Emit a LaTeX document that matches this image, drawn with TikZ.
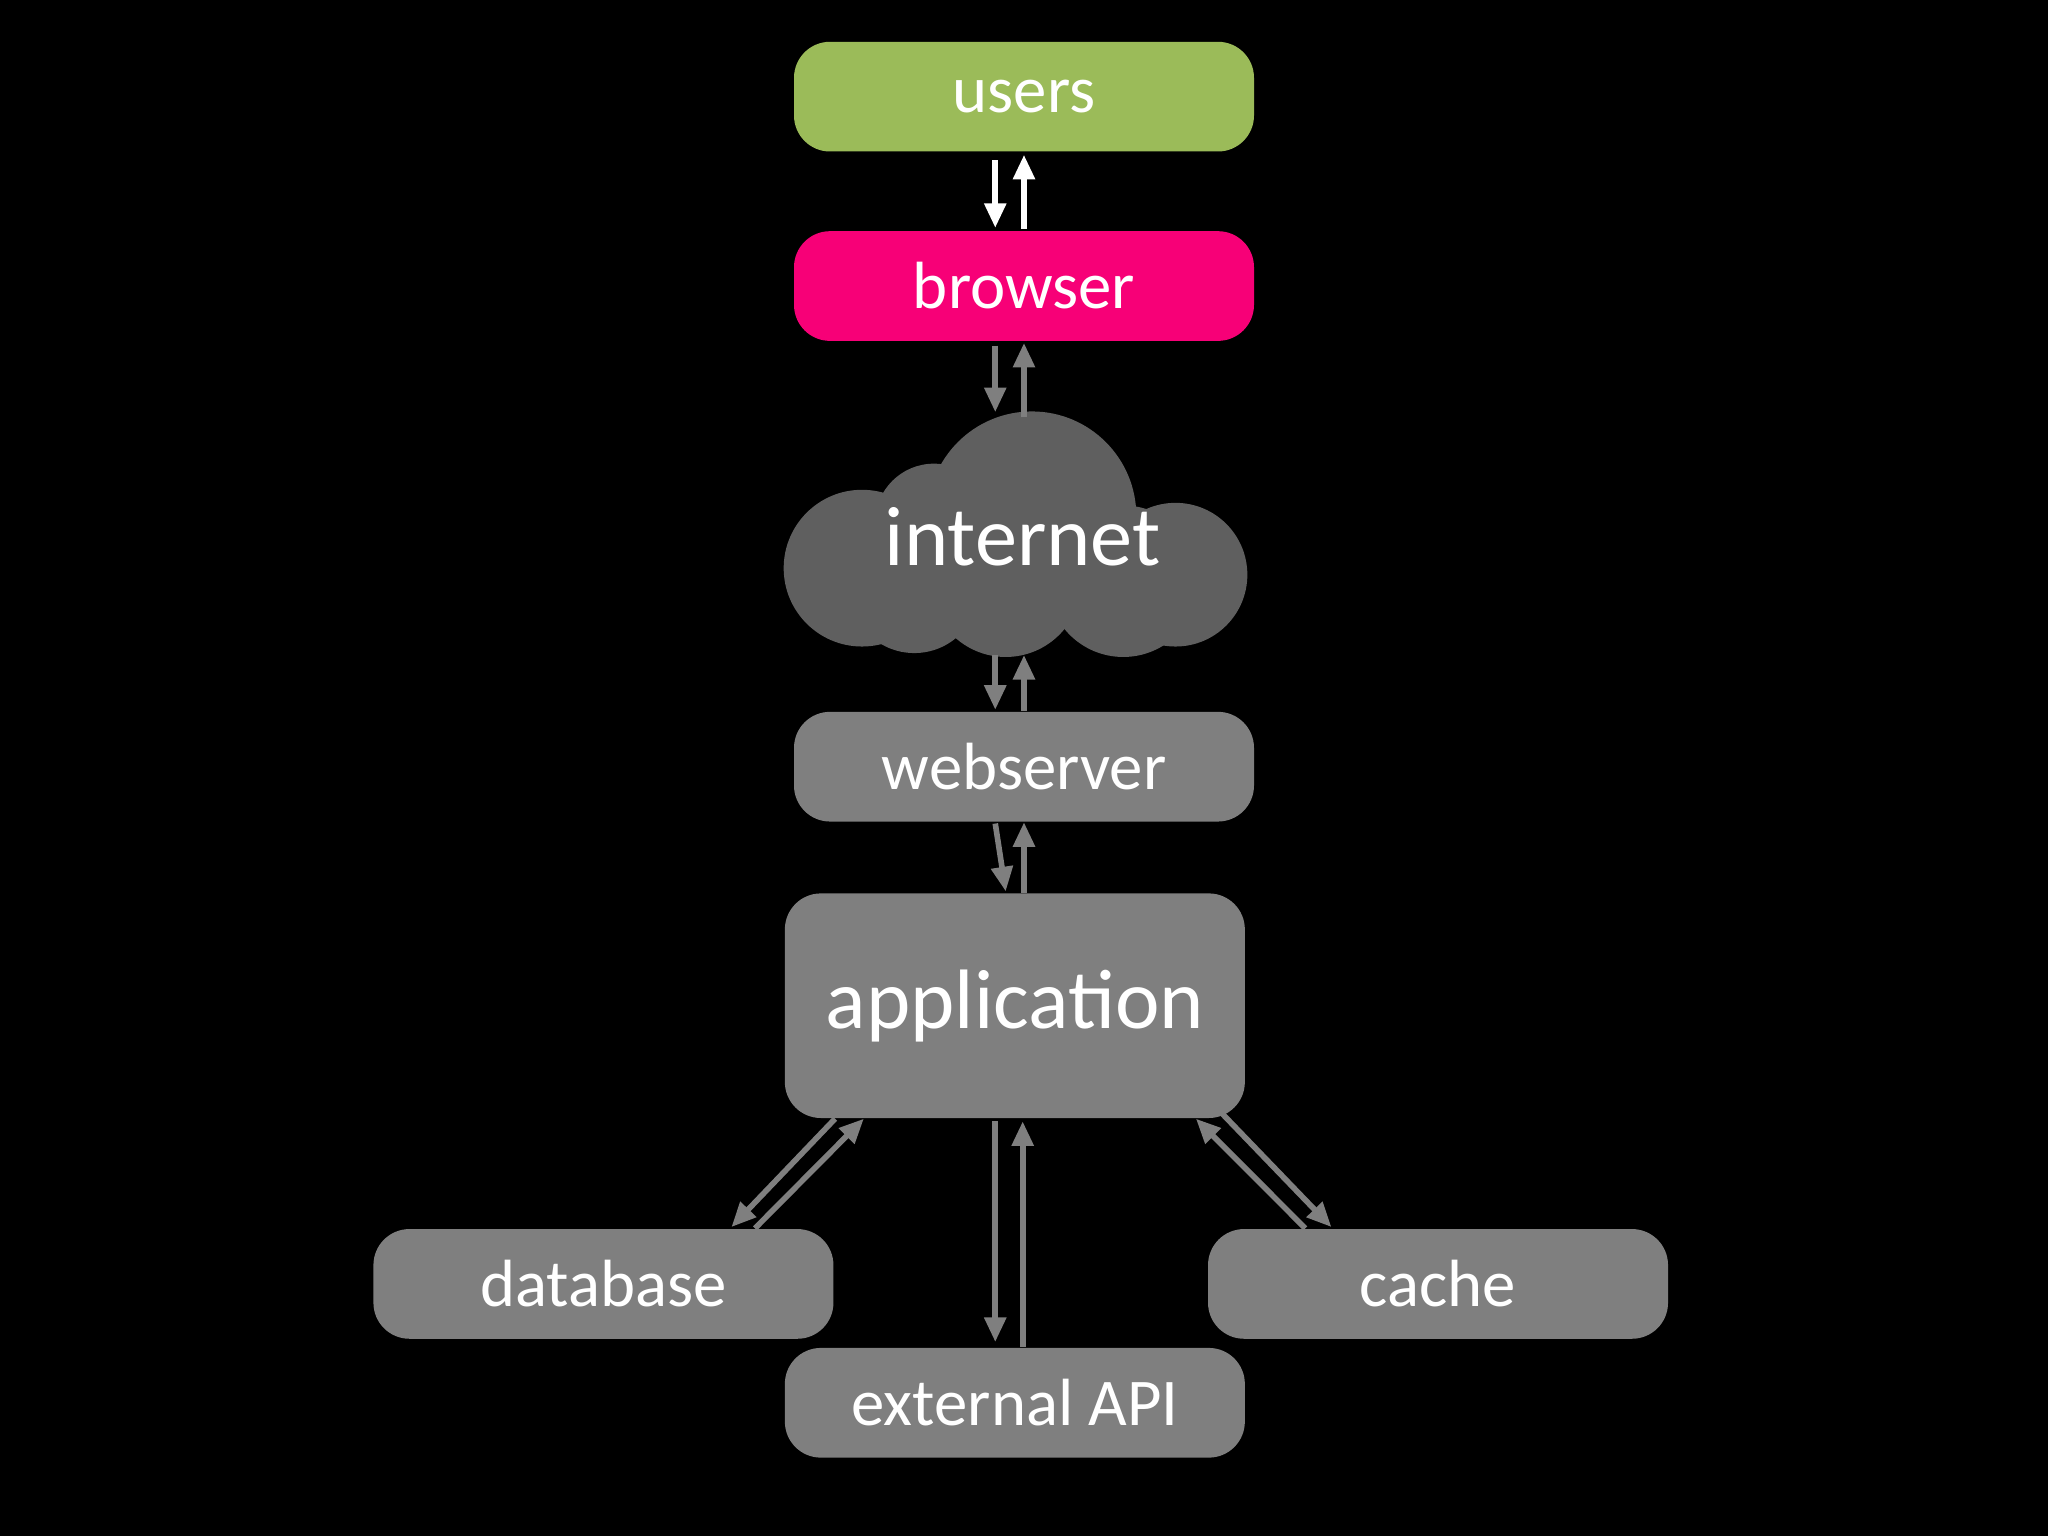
\documentclass[tikz,border=0pt]{standalone}
\usepackage{fontspec}
\setmainfont{Carlito}
\usetikzlibrary{calc,arrows.meta}
\definecolor{grn}{HTML}{9BBB59}
\definecolor{pnk}{HTML}{F70077}
\definecolor{gry}{HTML}{7F7F7F}
\definecolor{cld}{HTML}{5F5F5F}
\begin{document}
\begin{tikzpicture}[x=0.01306cm,y=-0.01306cm,
  box/.style={rounded corners=0.36cm,minimum width=4.6cm,minimum height=1.097cm,text=white,font=\fontsize{19}{22}\selectfont,inner sep=0},
  arr/.style={line width=1.6pt,-{Triangle[length=7pt,width=6pt]}},
  garr/.style={arr,draw=gry},
  warr/.style={arr,draw=white}]
\fill[black] (0,0) rectangle (1568,1176);
\useasboundingbox (0,0) rectangle (1568,1176);
\node[box,fill=grn] (users) at (784,74) {users};
\node[box,fill=pnk] (browser) at (784,219) {browser};
% cloud
\begin{scope}[fill=cld]
\fill (790,395) circle (80);
\fill (715,400) circle (45);
\fill (660,435) circle (60);
\fill (770,445) circle (58);
\fill (860,445) circle (58);
\fill (900,440) circle (55);
\fill (700,450) circle (50);
\end{scope}
\node[minimum width=4.7cm,minimum height=2.4cm,text=white,font=\fontsize{24}{28}\selectfont] (internet) at (783,411) {internet};
\node[box,fill=gry] (webserver) at (784,587) {webserver};
\node[box,fill=gry,minimum height=2.246cm,font=\fontsize{24}{28}\selectfont] (application) at (777,770) {application};
\node[box,fill=gry] (database) at (462,983) {database};
\node[box,fill=gry] (cache) at (1101,983) {cache};
\node[box,fill=gry] (api) at (777,1074) {external API};
% arrows
\draw[warr] ($(users.south)+(-22,6)$) -- ($(browser.north)+(-22,-2)$);
\draw[warr] ($(browser.north)+(0,-1)$) -- ($(users.south)+(0,2)$);
\draw[garr] ($(browser.south)+(-22,3)$) -- ($(browser.south)+(-22,54)$);
\draw[garr] ($(browser.south)+(0,58)$) -- ($(browser.south)+(0,1)$);
\draw[garr] ($(webserver.north)+(-22,-43)$) -- ($(webserver.north)+(-22,-1)$);
\draw[garr] ($(webserver.north)+(0,0)$) -- ($(webserver.north)+(0,-43)$);
\draw[garr] ($(webserver.south)+(-22,1)$) -- ($(application.north)+(-7,-1)$);
\draw[garr] ($(application.north)+(7,0)$) -- ($(webserver.south)+(0,0)$);
\draw[garr] ($(application.south west)+(39,0)$) -- ($(database.north)+(98,-1)$);
\draw[garr] ($(database.north)+(116,0)$) -- ($(application.south west)+(61,0)$);
\draw[garr] ($(application.south east)+(-18,-4)$) -- ($(cache.north west)+(95,-1)$);
\draw[garr] ($(cache.north west)+(75,0)$) -- ($(application.south east)+(-38,0)$);
\draw[garr] ($(application.south)+(-15,2)$) -- ($(api.north)+(-15,-4)$);
\draw[garr] ($(api.north)+(6,0)$) -- ($(application.south)+(6,2)$);
\end{tikzpicture}
\end{document}
